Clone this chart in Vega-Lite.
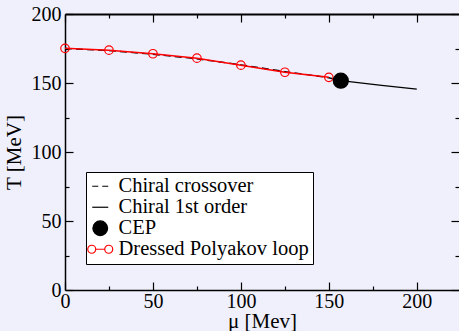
{
  "$schema": "https://vega.github.io/schema/vega-lite/v6.json",
  "width": 394,
  "height": 276,
  "autosize": {"type": "none"},
  "padding": {"left": 65, "top": 14, "right": 0, "bottom": 41},
  "background": "#f0f0fc",
  "datasets": {
    "crossover": [
      {"mu": 0, "T": 175.0},
      {"mu": 25, "T": 173.5},
      {"mu": 50, "T": 170.8},
      {"mu": 75, "T": 167.5},
      {"mu": 100, "T": 163.2},
      {"mu": 125, "T": 158.3},
      {"mu": 150, "T": 153.8},
      {"mu": 156.8, "T": 151.7}
    ],
    "firstorder": [
      {"mu": 156.8, "T": 151.7},
      {"mu": 180, "T": 148.3},
      {"mu": 200, "T": 145.6}
    ],
    "polyakov": [
      {"mu": 0, "T": 175.1},
      {"mu": 25, "T": 173.8},
      {"mu": 50, "T": 171.2},
      {"mu": 75, "T": 168.0},
      {"mu": 100, "T": 162.9},
      {"mu": 125, "T": 157.8},
      {"mu": 150, "T": 154.1}
    ],
    "cep": [
      {"mu": 156.8, "T": 151.7, "series": "CEP"}
    ]
  },
  "config": {
    "view": {"stroke": null},
    "axis": {
      "grid": false,
      "domain": false,
      "labelFont": "Liberation Serif",
      "labelFontSize": 20,
      "labelColor": "black",
      "titleFont": "Liberation Serif",
      "titleFontSize": 21,
      "titleFontWeight": "normal",
      "titleColor": "black",
      "tickColor": "black",
      "tickWidth": 1.2,
      "domainColor": "black",
      "domainWidth": 1.5,
      "labelFlush": false,
      "labelOverlap": false
    },
    "legend": {
      "labelFont": "Liberation Serif",
      "labelFontSize": 20.5,
      "labelColor": "black",
      "labelLimit": 400,
      "strokeColor": "black",
      "fillColor": "white",
      "padding": 4,
      "symbolSize": 100,
      "symbolStrokeWidth": 1.2,
      "symbolOpacity": 1,
      "rowPadding": -1.5,
      "labelOffset": 8
    }
  },
  "resolve": {"axis": {"x": "independent", "y": "independent"}},
  "layer": [
    {
      "data": {"name": "crossover"},
      "mark": {"type": "line", "color": "black", "strokeWidth": 1.3, "strokeDash": [7, 4]},
      "encoding": {
        "x": {
          "field": "mu", "type": "quantitative",
          "scale": {"domain": [0, 224], "nice": false, "zero": false},
          "axis": {"orient": "bottom", "values": [0, 50, 100, 150, 200], "ticks": false, "domain": true, "labelPadding": 1, "title": "μ [Mev]", "titleBaseline": "alphabetic", "titleY": 37}
        },
        "y": {
          "field": "T", "type": "quantitative",
          "scale": {"domain": [0, 200], "nice": false, "zero": false},
          "axis": {"orient": "left", "values": [0, 50, 100, 150, 200], "ticks": false, "domain": true, "labelPadding": 4, "title": "T [MeV]", "titlePadding": 7}
        }
      }
    },
    {
      "data": {"name": "firstorder"},
      "mark": {"type": "line", "color": "black", "strokeWidth": 1.3},
      "encoding": {
        "x": {
          "field": "mu", "type": "quantitative",
          "scale": {"domain": [0, 224], "nice": false, "zero": false},
          "axis": {"orient": "bottom", "values": [0, 50, 100, 150, 200], "tickSize": -8, "labels": false, "title": null}
        },
        "y": {
          "field": "T", "type": "quantitative",
          "scale": {"domain": [0, 200], "nice": false, "zero": false},
          "axis": {"orient": "left", "values": [0, 50, 100, 150, 200], "tickSize": -8, "labels": false, "title": null}
        }
      }
    },
    {
      "data": {"name": "polyakov"},
      "mark": {"type": "line", "color": "red", "strokeWidth": 1.5},
      "encoding": {
        "x": {
          "field": "mu", "type": "quantitative",
          "scale": {"domain": [0, 224], "nice": false, "zero": false},
          "axis": {"orient": "bottom", "values": [25, 75, 125, 175], "tickSize": -4, "labels": false, "title": null}
        },
        "y": {
          "field": "T", "type": "quantitative",
          "scale": {"domain": [0, 200], "nice": false, "zero": false},
          "axis": {"orient": "left", "values": [25, 75, 125, 175], "tickSize": -4, "labels": false, "title": null}
        }
      }
    },
    {
      "data": {"name": "polyakov"},
      "mark": {"type": "point", "shape": "circle", "color": "red", "filled": false, "size": 72, "strokeWidth": 1.2, "opacity": 1},
      "encoding": {
        "x": {
          "field": "mu", "type": "quantitative",
          "scale": {"domain": [0, 224], "nice": false, "zero": false},
          "axis": {"orient": "top", "values": [0, 50, 100, 150, 200], "tickSize": -8, "labels": false, "title": null, "domain": true, "domainWidth": 2}
        },
        "y": {
          "field": "T", "type": "quantitative",
          "scale": {"domain": [0, 200], "nice": false, "zero": false},
          "axis": {"orient": "right", "values": [0, 50, 100, 150, 200], "tickSize": -8, "labels": false, "title": null}
        }
      }
    },
    {
      "data": {"name": "cep"},
      "mark": {"type": "point", "size": 104, "strokeWidth": 1.2, "opacity": 1},
      "encoding": {
        "x": {
          "field": "mu", "type": "quantitative",
          "scale": {"domain": [0, 224], "nice": false, "zero": false},
          "axis": {"orient": "top", "values": [25, 75, 125, 175], "tickSize": -4, "labels": false, "title": null}
        },
        "y": {
          "field": "T", "type": "quantitative",
          "scale": {"domain": [0, 200], "nice": false, "zero": false},
          "axis": {"orient": "right", "values": [25, 75, 125, 175], "tickSize": -4, "labels": false, "title": null}
        },
        "shape": {
          "field": "series", "type": "nominal",
          "scale": {
            "domain": ["Chiral crossover", "Chiral 1st order", "CEP", "Dressed Polyakov loop"],
            "range": [
              "M-1.6,0H-0.4M0.4,0H1.6",
              "M-1.6,0H1.6",
              "M-1.47,0A1.47,1.47 0 1 1 1.47,0A1.47,1.47 0 1 1 -1.47,0Z",
              "M-2.5,0A0.8,0.8 0 1 1 -0.9,0A0.8,0.8 0 1 1 -2.5,0M-0.9,0H0.9M0.9,0A0.8,0.8 0 1 1 2.5,0A0.8,0.8 0 1 1 0.9,0"
            ]
          },
          "legend": {"title": null, "orient": "none", "legendX": 21, "legendY": 158}
        },
        "stroke": {
          "field": "series", "type": "nominal",
          "scale": {
            "domain": ["Chiral crossover", "Chiral 1st order", "CEP", "Dressed Polyakov loop"],
            "range": ["black", "black", "black", "red"]
          },
          "legend": {"title": null, "orient": "none", "legendX": 21, "legendY": 158}
        },
        "fill": {
          "field": "series", "type": "nominal",
          "scale": {
            "domain": ["Chiral crossover", "Chiral 1st order", "CEP", "Dressed Polyakov loop"],
            "range": ["transparent", "transparent", "black", "transparent"]
          },
          "legend": {"title": null, "orient": "none", "legendX": 21, "legendY": 158}
        }
      }
    }
  ]
}
